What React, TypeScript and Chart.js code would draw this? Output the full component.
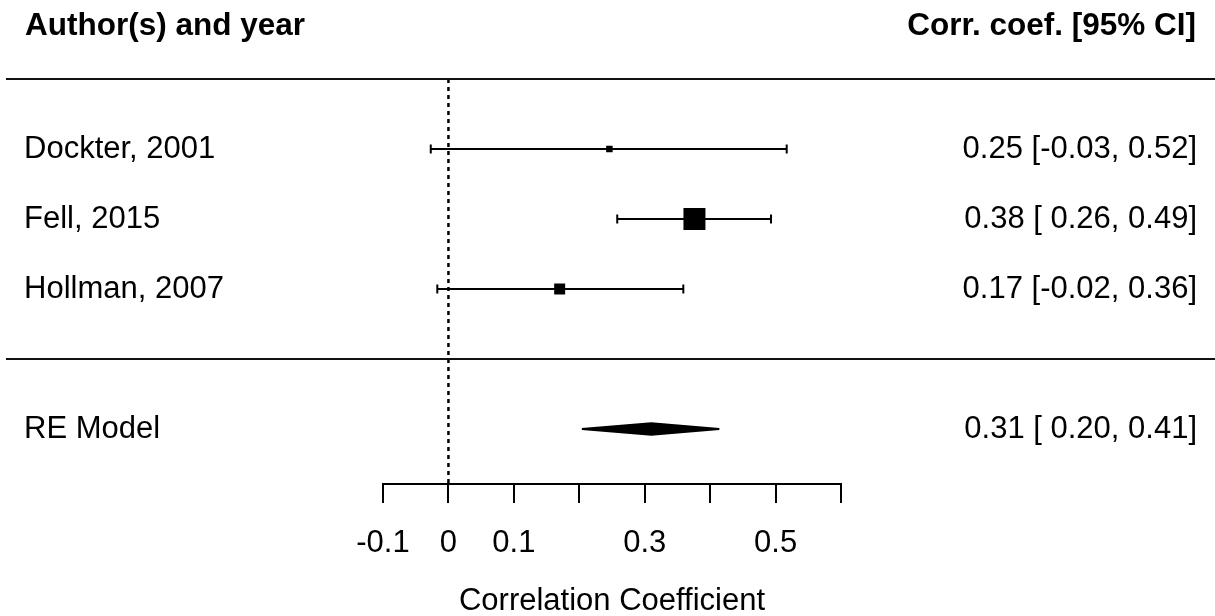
import React, { useEffect, useRef } from "react";
import { Chart, registerables } from "chart.js";

Chart.register(...registerables);

// ---------- data ----------
const studies = ["Dockter, 2001", "Fell, 2015", "Hollman, 2007"];
const estimates = [0.246, 0.376, 0.17];
const ciLower = [-0.027, 0.258, -0.017];
const ciUpper = [0.517, 0.493, 0.359];
const studyRows = [3, 2, 1];

const modelLabel = "RE Model";
const modelEstimate = 0.31;
const modelLower = 0.204;
const modelUpper = 0.414;
const modelRow = -1;

const tickValues = [-0.1, 0, 0.1, 0.2, 0.3, 0.4, 0.5, 0.6];
const tickLabels = ["-0.1", "0", "0.1", "", "0.3", "", "0.5", ""];

const headerLeft = "Author(s) and year";
const headerRight = "Corr. coef. [95% CI]";
const xTitle = "Correlation Coefficient";

// ---------- styles ----------
const FONT = "'Liberation Sans', Arial, Helvetica, sans-serif";
const FS = 31;
const squareSides = [6.5, 22, 11];
const TOP_ROW = 4;
const SEP_ROW = 0;
const Y_MIN = -1.7857;

const fmtLo = (v: number) => (v < 0 ? v.toFixed(2) : " " + v.toFixed(2));
const ciText = (e: number, lo: number, hi: number) =>
  `${e.toFixed(2)} [${fmtLo(lo)}, ${hi.toFixed(2)}]`;

const forestPlugin = {
  id: "forestDecor",
  afterDatasetsDraw(chart: any) {
    const { ctx, scales } = chart;
    const x = scales.x;
    const y = scales.y;
    // diamond for the summary estimate
    const yc = Math.round(y.getPixelForValue(modelRow));
    const h = 5.8;
    ctx.save();
    ctx.beginPath();
    ctx.moveTo(x.getPixelForValue(modelLower), yc);
    ctx.lineTo(x.getPixelForValue(modelEstimate), yc - h);
    ctx.lineTo(x.getPixelForValue(modelUpper), yc);
    ctx.lineTo(x.getPixelForValue(modelEstimate), yc + h);
    ctx.closePath();
    ctx.fillStyle = "#000";
    ctx.fill();
    ctx.lineWidth = 2;
    ctx.lineJoin = "miter";
    ctx.strokeStyle = "#000";
    ctx.stroke();
    ctx.restore();
  },
  afterDraw(chart: any) {
    const { ctx, scales, width } = chart;
    const y = scales.y;
    const leftX = 24;
    const rightX = 1197;
    ctx.save();
    // horizontal rules
    ctx.strokeStyle = "#111";
    ctx.lineWidth = 2;
    [TOP_ROW, SEP_ROW].forEach((r) => {
      const py = Math.round(y.getPixelForValue(r));
      ctx.beginPath();
      ctx.moveTo(6, py);
      ctx.lineTo(width, py);
      ctx.stroke();
    });
    ctx.fillStyle = "#000";
    ctx.textBaseline = "middle";
    // header
    const headY = y.getPixelForValue(TOP_ROW) - 53;
    ctx.font = `bold ${FS + 0.5}px ${FONT}`;
    ctx.textAlign = "left";
    ctx.fillText(headerLeft, leftX + 1, headY);
    ctx.textAlign = "right";
    ctx.fillText(headerRight, rightX - 1, headY);
    // rows
    ctx.font = `${FS}px ${FONT}`;
    studies.forEach((s, i) => {
      const py = y.getPixelForValue(studyRows[i]);
      ctx.textAlign = "left";
      ctx.fillText(s, leftX, py);
      ctx.textAlign = "right";
      ctx.fillText(ciText(estimates[i], ciLower[i], ciUpper[i]), rightX, py);
    });
    const my = y.getPixelForValue(modelRow);
    ctx.textAlign = "left";
    ctx.fillText(modelLabel, leftX, my);
    ctx.textAlign = "right";
    ctx.fillText(ciText(modelEstimate, modelLower, modelUpper), rightX, my);
    ctx.restore();
  },
};

export default function App() {
  const ref = useRef<HTMLCanvasElement>(null);
  useEffect(() => {
    if (!ref.current) return;
    const datasets: any[] = [
      {
        label: "estimates",
        data: studies.map((_, i) => ({ x: estimates[i], y: studyRows[i] })),
        pointStyle: "rect",
        pointRadius: squareSides.map((s) => s / Math.SQRT2),
        pointBackgroundColor: "#000",
        pointBorderWidth: 0,
        showLine: false,
        order: 0,
      },
      ...studies.map((_, i) => ({
        label: "ci" + i,
        data: [
          { x: ciLower[i], y: studyRows[i] },
          { x: ciUpper[i], y: studyRows[i] },
        ],
        showLine: true,
        borderColor: "#000",
        borderWidth: 2,
        pointStyle: "line",
        pointRotation: 90,
        pointRadius: 4.5,
        pointBorderWidth: 2,
        pointBorderColor: "#000",
        fill: false,
        order: 1,
      })),
      {
        label: "zero",
        data: [
          { x: 0, y: TOP_ROW },
          { x: 0, y: Y_MIN },
        ],
        showLine: true,
        borderColor: "#000",
        borderWidth: 2.5,
        borderDash: [4, 4],
        pointRadius: 0,
        fill: false,
        order: 2,
      },
    ];
    const chart = new Chart(ref.current, {
      type: "scatter",
      data: { datasets },
      options: {
        animation: false,
        responsive: false,
        events: [],
        layout: { padding: { left: 383, right: 374, top: 79, bottom: 0 } },
        plugins: { legend: { display: false }, tooltip: { enabled: false } },
        scales: {
          x: {
            type: "linear",
            min: -0.1,
            max: 0.6,
            afterBuildTicks: (s: any) => {
              s.ticks = tickValues.map((v) => ({ value: v }));
            },
            afterFit: (s: any) => {
              s.height = 132;
            },
            grid: {
              drawOnChartArea: false,
              drawTicks: true,
              tickLength: 19,
              color: "#000",
              lineWidth: 2,
            },
            border: { display: true, color: "#000", width: 2 },
            ticks: {
              autoSkip: false,
              maxRotation: 0,
              padding: 22,
              color: "#000",
              font: { family: FONT, size: FS },
              callback: (_v: any, i: number) => tickLabels[i],
            },
            title: {
              display: true,
              text: xTitle,
              color: "#000",
              font: { family: FONT, size: FS, lineHeight: 0.95 },
              padding: 0,
            },
          },
          y: { type: "linear", display: false, min: Y_MIN, max: TOP_ROW },
        },
      } as any,
      plugins: [forestPlugin],
    });
    return () => chart.destroy();
  }, []);
  return (
    <div style={{ position: "absolute", left: 0, top: 0, width: 1215, height: 616, background: "#fff" }}>
      <canvas ref={ref} width={1215} height={616} style={{ display: "block", width: 1215, height: 616 }} />
    </div>
  );
}
